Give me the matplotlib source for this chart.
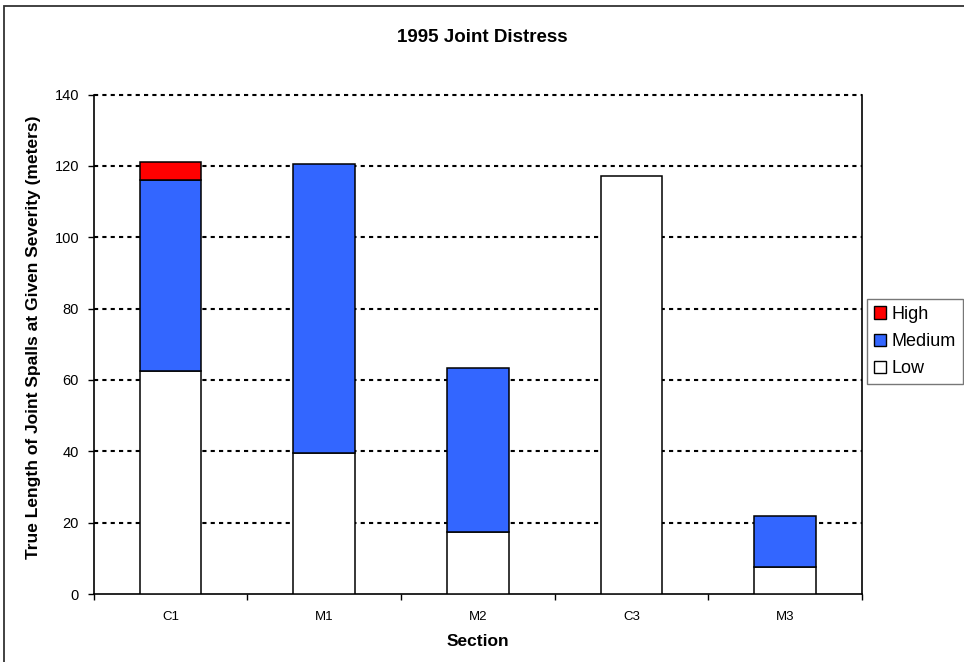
import matplotlib
matplotlib.use("Agg")
import matplotlib.pyplot as plt
from matplotlib.patches import Rectangle, Patch
import numpy as np

plt.rcParams['font.family'] = ['Liberation Sans', 'DejaVu Sans']

sections = ["C1", "M1", "M2", "C3", "M3"]
low = [62.5, 39.6, 17.3, 117.1, 7.6]
medium = [53.5, 80.8, 46.1, 0.0, 14.2]
high = [5.0, 0.0, 0.0, 0.0, 0.0]
y_ticks = [0, 20, 40, 60, 80, 100, 120, 140]

W, H = 964, 662
fig = plt.figure(figsize=(W / 100, H / 100), dpi=100)
ax_left, ax_right, ax_top, ax_bottom = 93.7, 862, 94.5, 594
ax = fig.add_axes([ax_left / W, 1 - ax_bottom / H,
                   (ax_right - ax_left) / W, (ax_bottom - ax_top) / H])

series = [("Low", low, "white"), ("Medium", medium, "#3366FF"),
          ("High", high, "#FF0000")]
x = np.arange(len(sections))
w = 0.4
base = np.zeros(len(sections))
for name, vals, col in series:
    vals = np.array(vals)
    for i in range(len(sections)):
        if vals[i] > 0:
            ax.bar(x[i], vals[i], w, bottom=base[i], color=col,
                   edgecolor="black", linewidth=1.1, zorder=3)
    base = base + vals

ax.set_xlim(-0.5, len(sections) - 0.5)
ax.set_ylim(0, 140)
ax.set_yticks(y_ticks)
ax.set_xticks(x)
ax.set_xticklabels(sections, fontsize=9.5)
ax.set_xticks(np.arange(-0.5, len(sections), 1.0), minor=True)
ax.tick_params(axis="x", which="major", length=0, pad=12)
ax.tick_params(axis="x", which="minor", length=4, direction="out", width=1)
ax.tick_params(axis="y", length=4, direction="out", width=1, labelsize=10.5,
               pad=6.5)

for v in y_ticks[1:]:
    ax.axhline(v, color="black", linestyle=(0, (2, 2)), linewidth=1.5,
               zorder=1, clip_on=False)

for side in ["left", "bottom", "right"]:
    ax.spines[side].set_color("black")
    ax.spines[side].set_linewidth(1.2)
ax.spines["top"].set_visible(False)

fig.text((ax_left + ax_right) / 2 / W, 1 - 642 / H, "Section",
         ha="center", va="center", fontsize=12.5, fontweight="bold")
fig.text(33.7 / W, 1 - 337 / H,
         "True Length of Joint Spalls at Given Severity (meters)",
         ha="center", va="center", rotation=90, fontsize=12.5,
         fontweight="bold")
fig.text(482 / W, 1 - 38 / H, "1995 Joint Distress",
         ha="center", va="center", fontsize=13.5, fontweight="bold")

handles = [Patch(facecolor="#FF0000", edgecolor="black", label="High"),
           Patch(facecolor="#3366FF", edgecolor="black", label="Medium"),
           Patch(facecolor="white", edgecolor="black", label="Low")]
leg = fig.legend(handles=handles, loc="upper left",
                 bbox_to_anchor=(867 / W, 1 - 299 / H), fontsize=13,
                 frameon=True, fancybox=False, edgecolor="#555555",
                 handlelength=0.65, handleheight=0.65, handletextpad=0.35,
                 borderpad=0.38, labelspacing=0.56, borderaxespad=0)
leg.get_frame().set_linewidth(1.0)

# outer chart frame (runs off the right and bottom edges)
fig.patches.append(Rectangle((4 / W, -0.1), 1.2, 1.1 - 6 / H,
                             transform=fig.transFigure, fill=False,
                             edgecolor="#333333", linewidth=1.3))

fig.savefig("out.png", dpi=100)
